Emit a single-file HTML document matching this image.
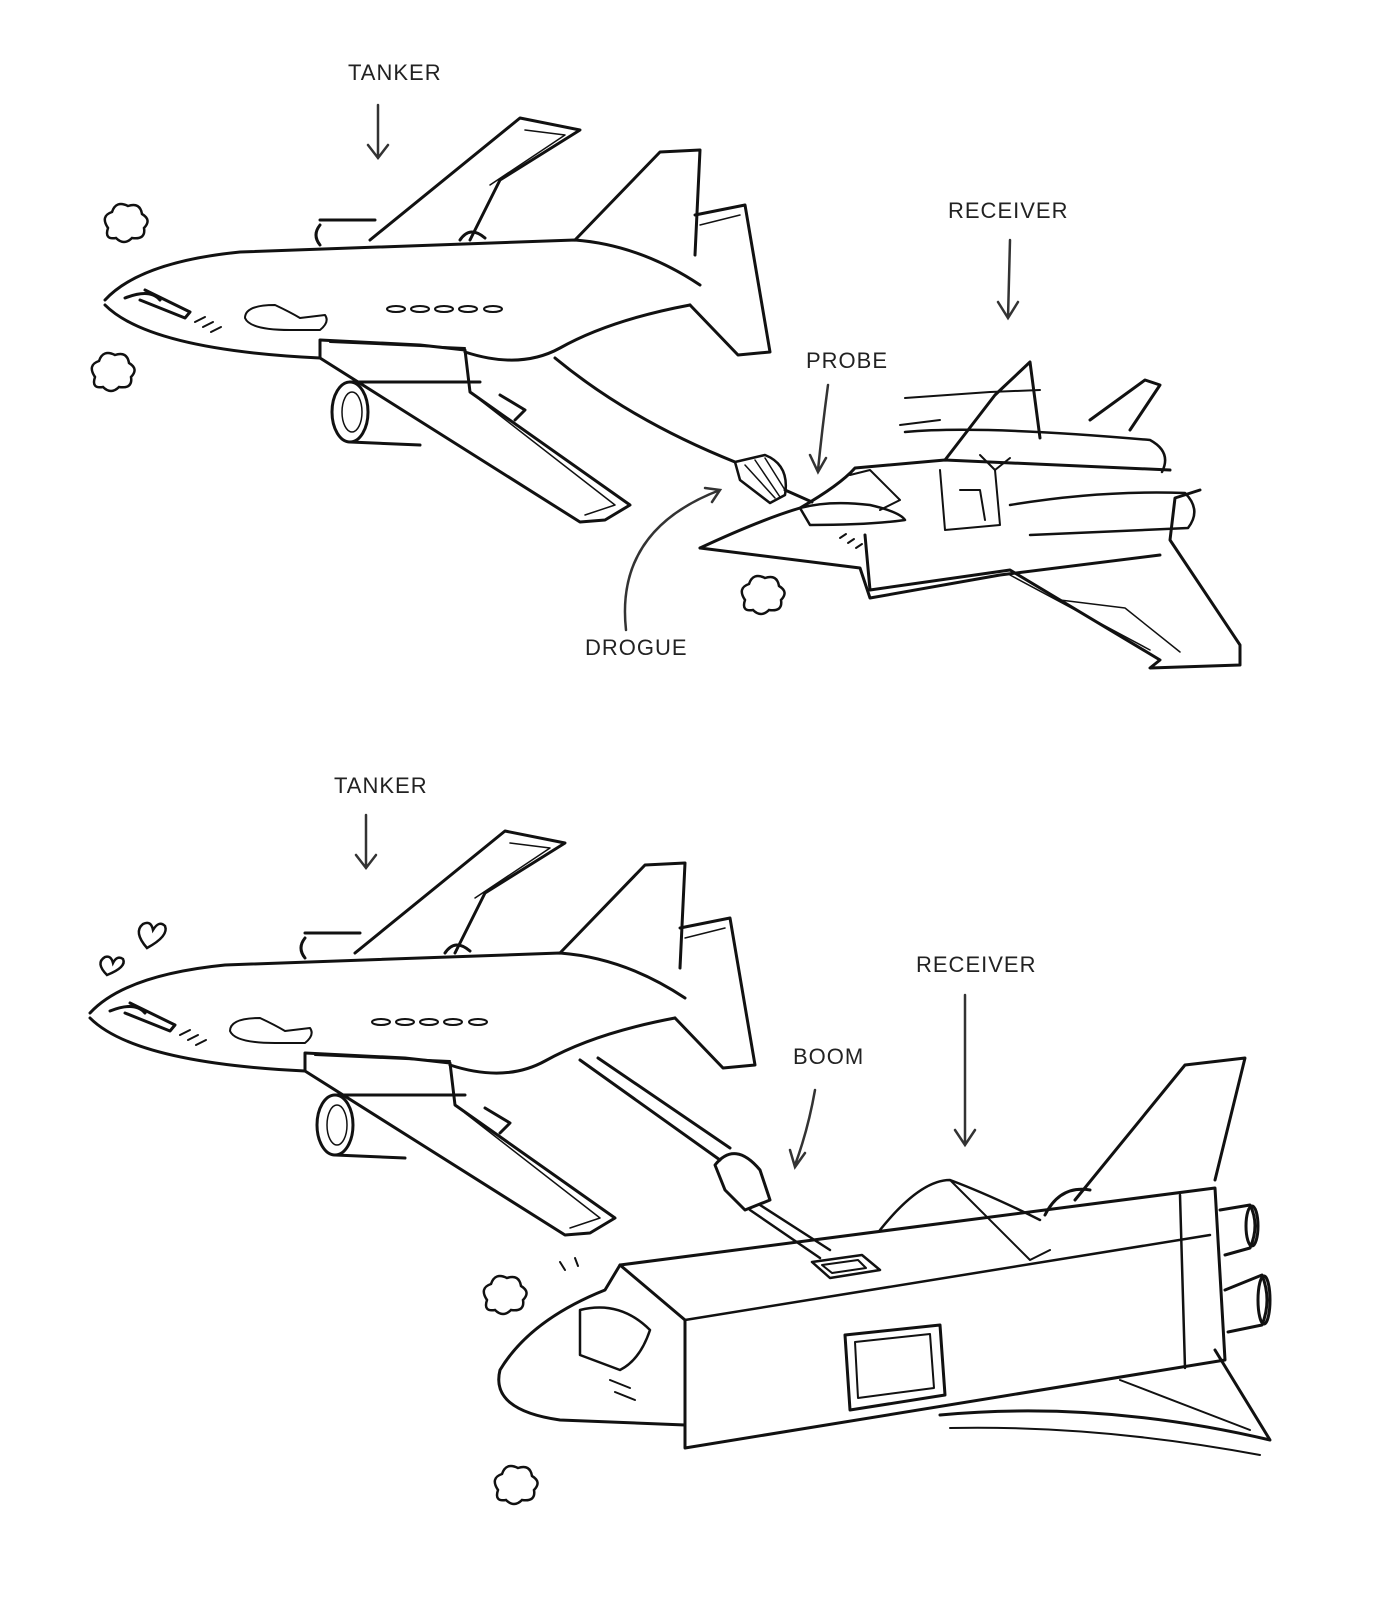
<!DOCTYPE html>
<html><head><meta charset="utf-8"><style>
html,body{margin:0;padding:0;background:#fff;}
svg{display:block}
text{font-family:"Liberation Sans",sans-serif;font-size:22px;fill:#222;letter-spacing:1px}
</style></head><body>
<svg width="1400" height="1600" viewBox="0 0 1400 1600" xmlns="http://www.w3.org/2000/svg">
<defs>
<g id="tanker" fill="none" stroke="#111" stroke-width="3" stroke-linecap="round" stroke-linejoin="round">
  <path d="M105,300 Q140,262 240,252 L575,240 Q640,245 700,285"/>
  <path d="M105,305 Q150,350 320,358"/>
  <path d="M465,352 Q520,370 560,348 Q610,320 690,305"/>
  <path d="M125,298 Q150,288 160,300" />
  <path d="M145,290 L190,312 L185,318 L140,300"/>
  <path d="M195,322 l10,-5 M203,327 l10,-5 M211,332 l10,-5" stroke-width="2"/>
  <path d="M575,240 L660,152 L700,150 L695,255"/>
  <path d="M695,215 L745,205 L770,352 L738,355 L690,305"/>
  <path d="M700,225 L740,215" stroke-width="1.5"/>
  <path d="M370,240 L520,118 L580,130 L500,180 L470,240"/>
  <path d="M525,130 L565,135 L490,185" stroke-width="1.5"/>
  <path d="M460,240 Q470,225 485,238" />
  <path d="M320,225 Q312,235 320,245 M320,220 L375,220"/>
  <path d="M320,340 L320,358 L580,522 L605,520 L630,505 L470,392 L465,350 L420,345 L320,340"/>
  <path d="M330,342 L465,348" stroke-width="2"/>
  <path d="M480,400 L615,505 L585,515" stroke-width="1.5"/>
  <ellipse cx="350" cy="412" rx="18" ry="30"/>
  <ellipse cx="352" cy="412" rx="10" ry="20" stroke-width="1.5"/>
  <path d="M350,382 L480,382 M350,442 L420,445 M500,395 L525,410 L515,420"/>
  <g stroke-width="2">
   <ellipse cx="396" cy="309" rx="9" ry="3"/><ellipse cx="420" cy="309" rx="9" ry="3"/>
   <ellipse cx="444" cy="309" rx="9" ry="3"/><ellipse cx="468" cy="309" rx="9" ry="3"/>
   <ellipse cx="493" cy="309" rx="9" ry="3"/>
   <path d="M275,305 Q245,305 245,318 Q250,330 290,330 L320,330 Q330,322 325,315 L300,318 Q290,312 275,305Z"/>
  </g>
</g>
<path id="puff" d="M0,0 q-8,-12 4,-16 q4,-12 16,-6 q12,-4 14,8 q10,6 2,14 q2,12 -12,10 q-8,8 -16,0 q-12,2 -8,-10z" fill="none" stroke="#111" stroke-width="2.5"/>
</defs>

<use href="#tanker"/>
<use href="#puff" transform="translate(108,228)"/>
<use href="#puff" transform="translate(95,377)"/>
<use href="#puff" transform="translate(745,600)"/>

<text x="348" y="80">TANKER</text>
<g fill="none" stroke="#333" stroke-width="2.5" stroke-linecap="round">
<path d="M378,105 L378,158 M368,145 L378,158 L388,145"/>
<path d="M1010,240 L1008,318 M998,302 L1008,318 L1018,302"/>
<path d="M828,385 Q822,430 818,470 M810,455 L818,472 L826,458"/>
<path d="M626,630 Q615,530 720,490 M705,488 L720,490 L712,502"/>
</g>
<text x="948" y="218">RECEIVER</text>
<text x="806" y="368">PROBE</text>
<text x="585" y="655">DROGUE</text>

<g fill="none" stroke="#111" stroke-width="3" stroke-linecap="round" stroke-linejoin="round">
<path d="M555,358 Q630,420 735,462"/>
<path d="M735,462 L765,455 Q790,465 785,495 L770,503 L740,480 Z" stroke-width="2.5"/>
<path d="M745,465 L775,498 M755,460 L780,497 M765,458 L785,490" stroke-width="1.5"/>
<path d="M785,490 L812,502"/>
</g>

<g fill="none" stroke="#111" stroke-width="3" stroke-linecap="round" stroke-linejoin="round">
<path d="M700,548 Q760,520 800,508 Q840,485 855,468 L945,460 L1170,470"/>
<path d="M700,548 L860,568 L870,598 L1000,575 L1160,555"/>
<path d="M800,508 Q830,500 870,505 Q900,512 905,520 Q870,525 810,525 Z" stroke-width="2.5"/>
<path d="M850,475 L870,470 L900,500 L880,510" stroke-width="2"/>
<path d="M945,460 L995,395 L1030,362 L1040,438"/>
<path d="M1090,420 L1145,380 L1160,385 L1130,430"/>
<path d="M905,398 L990,392 L1040,390" stroke-width="2"/>
<path d="M900,425 L940,420" stroke-width="2"/>
<path d="M905,432 Q980,425 1150,440 Q1172,452 1162,472" stroke-width="2.5"/>
<path d="M1010,505 Q1100,490 1185,493 Q1202,510 1188,528 L1030,535" stroke-width="2.5"/>
<path d="M865,535 L870,590 L1010,570 L1160,660 L1150,668 L1240,665 L1240,645 L1170,540 L1175,498 L1200,490"/>
<path d="M1010,575 L1150,650 M1060,600 L1125,608 L1180,652" stroke-width="1.5"/>
<path d="M940,470 L945,530 L1000,525 L995,470 M960,490 L980,490 L985,520" stroke-width="2"/>
<path d="M980,455 L995,470 L1010,458" stroke-width="2"/>
<path d="M840,538 l6,-4 M848,543 l6,-4 M856,548 l6,-4" stroke-width="2"/>
</g>

<use href="#tanker" transform="translate(-15,713)"/>
<g fill="none" stroke="#111" stroke-width="2.5">
<path d="M107,975 q-12,-12 -2,-18 q6,-2 8,6 q4,-8 10,-4 q4,8 -16,16z"/>
<path d="M147,948 q-14,-16 -4,-24 q8,-4 10,6 q6,-10 12,-4 q4,10 -18,22z"/>
</g>
<use href="#puff" transform="translate(487,1300)"/>
<use href="#puff" transform="translate(498,1490)"/>

<text x="334" y="793">TANKER</text>
<text x="916" y="972">RECEIVER</text>
<text x="793" y="1064">BOOM</text>
<g fill="none" stroke="#333" stroke-width="2.5" stroke-linecap="round">
<path d="M366,815 L366,868 M356,855 L366,868 L376,855"/>
<path d="M965,995 L965,1145 M955,1130 L965,1145 L975,1130"/>
<path d="M815,1090 Q808,1130 795,1165 M790,1150 L795,1167 L805,1153"/>
</g>

<g fill="none" stroke="#111" stroke-width="3" stroke-linecap="round" stroke-linejoin="round">
<path d="M580,1060 L720,1160 M598,1058 L730,1148"/>
<path d="M715,1165 Q735,1140 760,1170 L770,1200 L745,1210 L725,1190 Z"/>
<path d="M760,1205 L830,1250 M750,1210 L820,1258" stroke-width="2.5"/>
<path d="M812,1262 L862,1255 L880,1270 L830,1278 Z" stroke-width="2.5"/>
<path d="M822,1265 L858,1260 L866,1268 L832,1273 Z" stroke-width="2"/>
</g>

<g fill="none" stroke="#111" stroke-width="3" stroke-linecap="round" stroke-linejoin="round">
<path d="M620,1265 L1215,1188 L1225,1360 L685,1448 L685,1320 Z"/>
<path d="M685,1320 L1210,1235 M1180,1195 L1185,1368" stroke-width="2.5"/>
<path d="M620,1265 L605,1290 Q530,1320 500,1370 Q490,1410 560,1420 L685,1425"/>
<path d="M580,1310 Q620,1300 650,1330 Q640,1360 620,1370 L580,1355 Z" stroke-width="2.5"/>
<path d="M610,1380 l20,8 M615,1392 l20,8" stroke-width="2"/>
<path d="M845,1335 L940,1325 L945,1395 L850,1410 Z"/>
<path d="M855,1342 L930,1334 L934,1388 L858,1398 Z" stroke-width="2"/>
<path d="M1075,1200 L1185,1065 L1245,1058 L1215,1180"/>
<path d="M1045,1215 Q1060,1185 1090,1190"/>
<path d="M1220,1210 L1250,1205 Q1260,1225 1250,1248 L1225,1255"/>
<ellipse cx="1252" cy="1226" rx="6" ry="20"/>
<path d="M1225,1290 L1262,1275 Q1272,1300 1262,1325 L1228,1332"/>
<ellipse cx="1264" cy="1300" rx="6" ry="24"/>
<path d="M880,1230 Q920,1180 950,1180 Q990,1195 1040,1220" stroke-width="2.5"/>
<path d="M950,1180 L1030,1260 L1050,1250" stroke-width="2"/>
<path d="M940,1415 Q1100,1400 1270,1440 L1215,1350"/>
<path d="M950,1428 Q1100,1425 1260,1455 M1120,1380 L1250,1430" stroke-width="2"/>
<path d="M560,1262 l5,8 M575,1258 l3,8" stroke-width="2"/>
</g>
</svg>
</body></html>
